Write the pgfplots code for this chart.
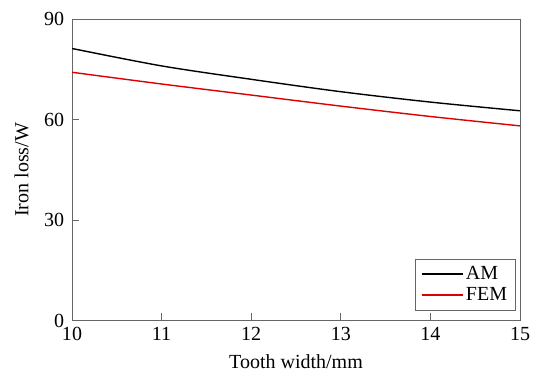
\documentclass[border=0pt]{standalone}
\usepackage{pgfplots}
\pgfplotsset{compat=1.18}
\usepackage{fontspec}
\setmainfont{Liberation Serif}
\definecolor{axgray}{gray}{0.4}
\definecolor{femred}{RGB}{220,0,0}
\begin{document}
\fontsize{20bp}{23bp}\selectfont
\begin{tikzpicture}
\path[use as bounding box] (0,0) rectangle (542bp,376bp);
\begin{axis}[
  at={(72bp,55.5bp)}, anchor=south west,
  scale only axis, width=448bp, height=301.5bp,
  xmin=10, xmax=15, ymin=0, ymax=90,
  xtick={10,11,12,13,14,15}, ytick={0,30,60,90},
  tick align=inside, tick pos=left,
  major tick length=7bp,
  axis line style={axgray, line width=0.9bp},
  every tick/.style={axgray, line width=0.9bp},
  /pgf/number format/assume math mode=true,
  tick label style={font=\fontsize{20bp}{23bp}\selectfont},
  label style={font=\fontsize{20bp}{23bp}\selectfont},
  xlabel={Tooth width/mm}, ylabel={Iron loss/W},
  xlabel style={yshift=0bp},
  ylabel style={yshift=2bp},
  yticklabel style={xshift=-1bp},
  legend style={at={(0.990,0.0325)}, anchor=south east, draw=axgray, line width=0.9bp,
    font=\fontsize{20bp}{23bp}\selectfont, inner xsep=5.5bp, inner ysep=4.5bp,
    nodes={inner sep=2.5bp}, row sep=0bp},
  legend cell align=left,
  legend image code/.code={\draw[#1] (0bp,0bp) -- (41bp,0bp);},
]
\addlegendimage{draw=black, line width=1.5bp}
\addlegendentry{AM}
\addlegendimage{draw=femred, line width=1.5bp}
\addlegendentry{FEM}
\addplot[black, line width=1.4bp, smooth, forget plot] coordinates {(10,81.2) (11,76.0) (12,72.0) (13,68.3) (14,65.2) (15,62.6)};
\addplot[femred, line width=1.4bp, smooth, forget plot] coordinates {(10,74.1) (11,70.6) (12,67.3) (13,64.0) (14,60.9) (15,58.1)};
\end{axis}
\end{tikzpicture}
\end{document}
